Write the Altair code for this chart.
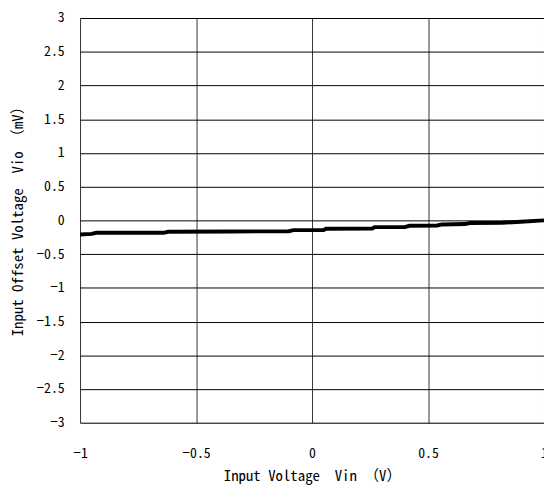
import altair as alt
import pandas as pd

vin = [-1.00, -0.95, -0.93, -0.64, -0.62, -0.35, -0.10, -0.08, 0.05, 0.06,
       0.26, 0.27, 0.40, 0.42, 0.54, 0.56, 0.66, 0.68, 0.82, 0.90, 1.00]
vio = [-0.21, -0.20, -0.185, -0.185, -0.17, -0.165, -0.16, -0.145, -0.145, -0.125,
       -0.12, -0.10, -0.10, -0.08, -0.075, -0.06, -0.055, -0.04, -0.035, -0.02, 0.0]

x_ticks = [-1, -0.5, 0, 0.5, 1]
y_ticks = [-3, -2.5, -2, -1.5, -1, -0.5, 0, 0.5, 1, 1.5, 2, 2.5, 3]

df = pd.DataFrame({"vin": vin, "vio": vio})

FONT = "Noto Sans Mono CJK JP, Noto Sans CJK JP, DejaVu Sans"
SP = "\u00a0"

chart = alt.Chart(df).mark_line(color="black", strokeWidth=4, clip=True).encode(
    x=alt.X("vin:Q",
            scale=alt.Scale(domain=[-1, 1], nice=False, zero=False),
            axis=alt.Axis(values=x_ticks, format="~g",
                          title=f"Input Voltage{SP}{SP}Vin{SP}（V）",
                          grid=True, gridColor="#333333", gridWidth=1,
                          ticks=False, domain=False, labelPadding=24,
                          labelFontSize=14, labelFont=FONT, labelColor="black",
                          titleFontSize=15, titleFont=FONT, titleFontWeight="normal",
                          titleColor="black", titleY=54, titleBaseline="middle",
                          labelFlush=False)),
    y=alt.Y("vio:Q",
            scale=alt.Scale(domain=[-3, 3], nice=False, zero=False),
            axis=alt.Axis(values=y_ticks, format="~g",
                          title=f"Input Offset Voltage{SP}{SP}Vio{SP}（mV）",
                          grid=True, gridColor="black", gridWidth=1,
                          ticks=False, domain=False, labelPadding=16,
                          labelFontSize=14, labelFont=FONT, labelColor="black",
                          titleFontSize=15, titleFont=FONT, titleFontWeight="normal",
                          titleColor="black", titleX=-63, titleY=202,
                          titleAngle=-90, titleBaseline="middle", labelFlush=False)),
).properties(
    width=470, height=410,
    autosize=alt.AutoSizeParams(type="none"),
    padding={"left": 73, "top": 7, "right": 0, "bottom": 64},
).configure_view(
    stroke="black", strokeWidth=1.5
).configure(background="white")

chart.save("out.html", embed_options={"renderer": "svg", "actions": False})
